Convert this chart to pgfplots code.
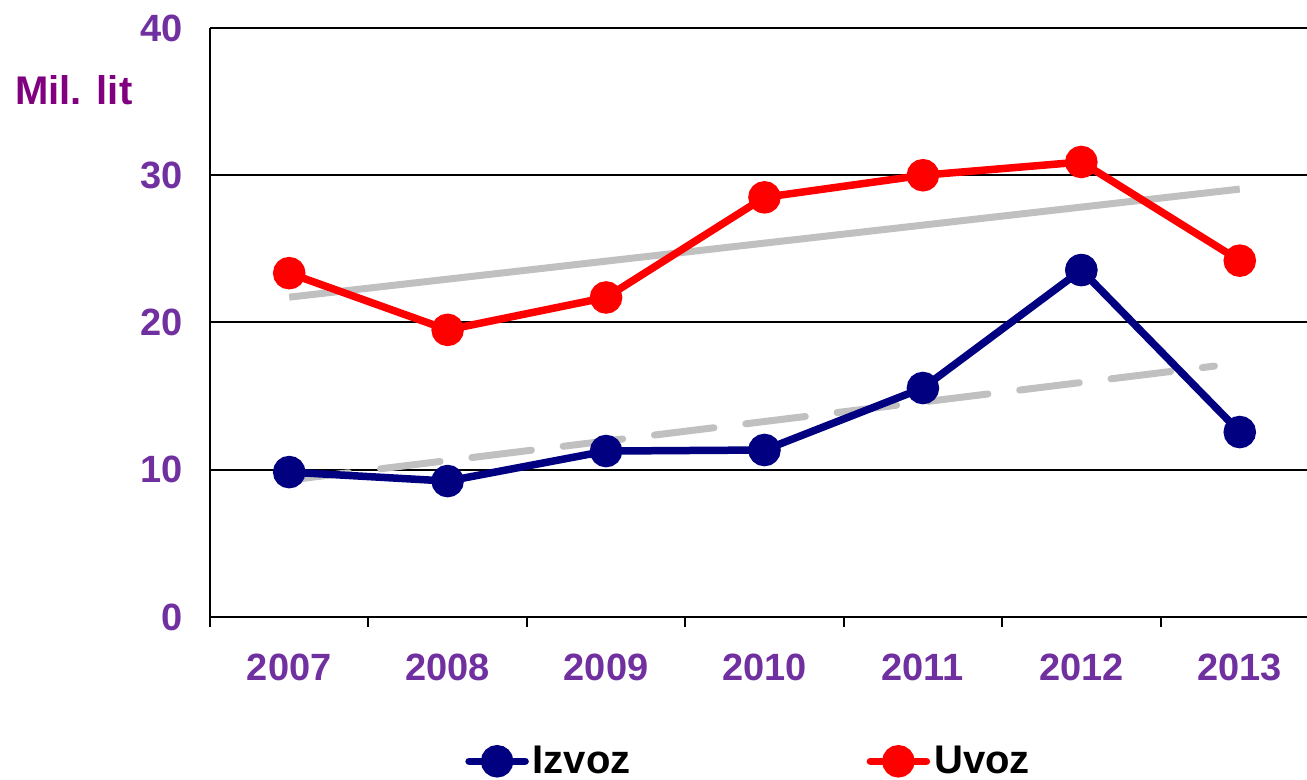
\documentclass[border=0pt]{standalone}
\usepackage{fontspec}
\setmainfont{Liberation Sans}
\usepackage{pgfplots}
\pgfplotsset{compat=1.18}
\definecolor{izvoz}{HTML}{000080}
\definecolor{uvoz}{HTML}{FF0000}
\definecolor{trend}{HTML}{C0C0C0}
\definecolor{tickc}{HTML}{7030A0}
\definecolor{unitc}{HTML}{800080}
\begin{document}
\begin{tikzpicture}
\useasboundingbox (0,0) rectangle (653.5pt,390pt);
\clip (0,0) rectangle (653.5pt,390pt);
\begin{axis}[
  at={(105pt,81.5pt)}, anchor=south west,
  scale only axis, width=554.5pt, height=294.5pt,
  xmin=-0.5, xmax=6.5, ymin=0, ymax=40,
  axis lines*=left,
  axis line style={-, line width=1pt},
  clip=false,
  xtick={0,...,6},
  xticklabels={2007,2008,2009,2010,2011,2012,2013},
  minor xtick={-0.5,0.5,...,6.5},
  ytick={0,10,...,40},
  tick align=outside,
  major tick length=0pt, minor tick length=5pt,
  minor tick style={line width=1pt, black},
  ymajorgrids,
  major grid style={black, line width=1pt},
  ticklabel style={font=\fontsize{19}{22}\selectfont\bfseries, text=tickc},
  xticklabel style={yshift=-15pt},
  yticklabel style={xshift=-10pt},
  /pgf/number format/assume math mode=true,
  legend columns=2,
  legend style={at={(axis description cs:0.2299,-0.2450)}, anchor=west,
    draw=none, fill=none, inner sep=0pt,
    font=\fontsize{20}{24}\selectfont\bfseries,
    /tikz/every even column/.append style={column sep=116pt}},
  legend image code/.code={\draw[#1, mark repeat=2, mark phase=2, line cap=round]
    plot coordinates {(0pt,0pt) (14pt,0pt) (28pt,0pt)};},
]
% trend lines
\addplot[trend, line width=3.5pt, forget plot] coordinates {(0,21.72) (6,29.06)};
\addplot[trend, line width=3.5pt, line cap=round, dash pattern=on 30pt off 16pt, forget plot]
  coordinates {(0,9.30) (5.84,17.04)};
% series
\addplot[izvoz, line width=3.75pt, mark=*, mark size=6.25pt] coordinates {
(0,9.84) (1,9.23) (2,11.27) (3,11.34) (4,15.55) (5,23.56) (6,12.56)};
\addlegendentry{Izvoz}
\addplot[uvoz, line width=3.75pt, mark=*, mark size=6.25pt] coordinates {
(0,23.35) (1,19.5) (2,21.7) (3,28.5) (4,30.0) (5,30.9) (6,24.2)};
\addlegendentry{Uvoz}
\addplot[izvoz, only marks, mark=*, mark size=7.75pt, forget plot] coordinates {(5,23.56)};
\end{axis}
\node[anchor=west, font=\fontsize{20}{24}\selectfont\bfseries, text=unitc, inner sep=0pt]
  at (7.5pt,345pt) {Mil. lit};
\end{tikzpicture}
\end{document}
